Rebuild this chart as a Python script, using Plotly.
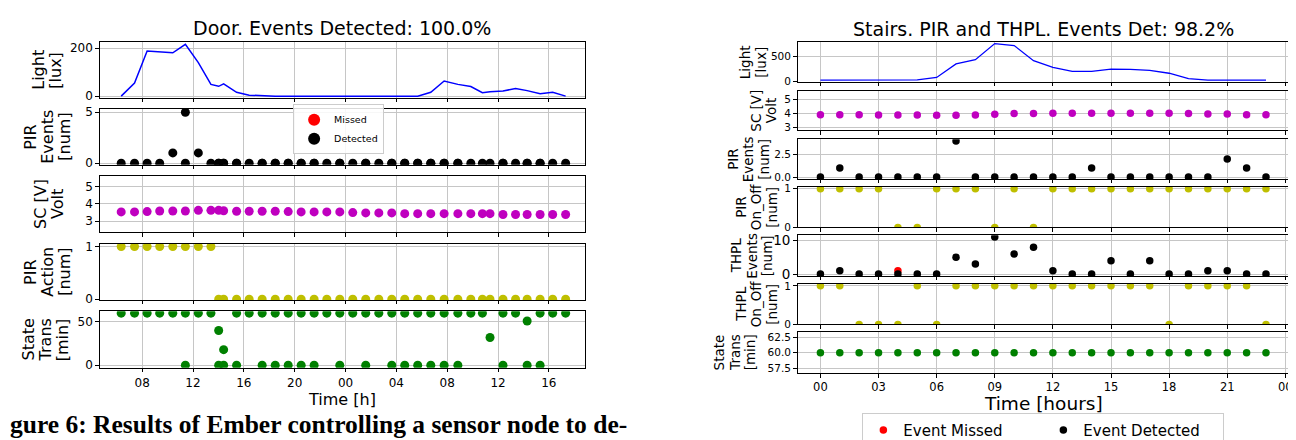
import plotly.graph_objects as go
import pandas as pd

W, H = 1296, 440

# ---------------- Left panel data: "Door" ----------------
door_hours = [6.35, 7.40, 8.39, 9.38, 10.41, 11.40, 12.42, 13.41, 14.02, 14.41,
              15.43, 16.42, 17.44, 18.47, 19.49, 20.51, 21.53, 22.53, 23.55, 24.57,
              25.59, 26.62, 27.64, 28.66, 29.68, 30.71, 31.76, 32.84, 33.86, 34.77,
              35.37, 36.39, 37.38, 38.29, 39.31, 40.30, 41.32]
door_light = [0, 55, 188, 185, 181, 216, 140, 49, 41, 51,
              16, 4, 1, 0, 0, 0, 0, 0, 0, 0,
              0, 0, 0, 0, 0, 16, 63, 49, 40, 14,
              18, 21, 32, 23, 10, 16, 0]
door_pir = [0, 0, 0, 0, 1, 5, 1, 0, 0, 0,
            0, 0, 0, 0, 0, 0, 0, 0, 0, 0,
            0, 0, 0, 0, 0, 0, 0, 0, 0, 0,
            0, 0, 0, 0, 0, 0, 0]
door_volt = [3.53, 3.53, 3.55, 3.58, 3.58, 3.58, 3.62, 3.62, 3.62, 3.60,
             3.57, 3.57, 3.57, 3.57, 3.55, 3.53, 3.53, 3.53, 3.53, 3.49,
             3.47, 3.47, 3.47, 3.43, 3.43, 3.43, 3.43, 3.43, 3.43, 3.43,
             3.43, 3.38, 3.38, 3.38, 3.38, 3.38, 3.38]
door_action = [1, 1, 1, 1, 1, 1, 1, 1, 0, 0,
               0, 0, 0, 0, 0, 0, 0, 0, 0, 0,
               0, 0, 0, 0, 0, 0, 0, 0, 0, 0,
               0, 0, 0, 0, 0, 0, 0]
door_state = [60, 60, 60, 60, 60, 60, 60, 60, 40, 18,
              60, 60, 60, 60, 60, 60, 60, 60, 60, 60,
              60, 60, 60, 60, 60, 60, 60, 60, 60, 60,
              32, 60, 60, 51, 60, 60, 60]
# additional transition records (0 min transition, 0 PIR events)
door_extra_hours = [11.40, 14.02, 14.41, 15.43, 17.44, 18.47, 19.49, 20.51, 21.53, 23.55,
                    25.59, 27.64, 28.66, 29.68, 30.71, 31.76, 32.84, 36.39, 38.29, 39.31]
door_extra_pir = [0] * len(door_extra_hours)
door_extra_state = [0] * len(door_extra_hours)
# no missed events in the door experiment (100 % detected)
door_missed_hours = [6.35]
door_missed_vals = [None]

# ---------------- Right panel data: "Stairs" ----------------
st_hours = list(range(24))
st_light = [25, 25, 25, 25, 25, 28, 79, 355, 440, 770, 730, 420,
            283, 204, 204, 250, 243, 224, 164, 53, 25, 25, 25, 25]
st_volt = [3.91, 3.90, 3.90, 3.88, 3.88, 3.88, 3.86, 3.86, 3.88, 3.93, 4.00, 4.00,
           4.02, 4.02, 4.02, 4.02, 4.02, 4.02, 4.02, 4.00, 3.95, 3.95, 3.91, 3.91]
st_pir = [0, 1, 0, 0, 0, 0, 0, 4, 0, 0, 0, 0, 0, 0, 1, 0, 0, 0, 0, 0, 0, 2, 1, 0]
st_pir_onoff = [1, 1, 1, 1, 0, 0, 1, 1, 1, 0, 1, 0, 1, 1, 1, 1, 1, 1, 1, 1, 1, 1, 1, 1]
st_thpl = [0, 1, 0, 0, 0, 0, 0, 5, 3, 11, 6, 8, 1, 0, 0, 4, 0, 4, 0, 0, 1, 1, 0, 0]
st_thpl_onoff = [1, 1, 0, 0, 0, 1, 0, 1, 1, 1, 1, 1, 1, 1, 1, 1, 1, 1, 0, 1, 1, 1, 1, 0]
st_state = [60] * 24
st_missed_hours = [4]
st_missed_vals = [1]

st_tickvals = [0, 3, 6, 9, 12, 15, 18, 21, 24]
st_ticktext = ["00", "03", "06", "09", "12", "15", "18", "21", "00"]

base = pd.Timestamp("2019-01-01")
def to_dt(hs):
    return [base + pd.Timedelta(hours=h) for h in hs]

door_t = to_dt(door_hours)
door_te = to_dt(door_extra_hours)
door_tm = to_dt(door_missed_hours)

# colours
BLUE, MAG, YEL, GRN, BLK, RED = "#0000ff", "#bf00bf", "#bfbf00", "#008000", "#000000", "#ff0000"
LMS, RMS = 9, 7.5

fig = go.Figure()

def sc(x, y, ax, color, size, **kw):
    fig.add_trace(go.Scatter(x=x, y=y, xaxis="x" + ax, yaxis="y" + ax, mode="markers",
                             marker=dict(color=color, size=size, line=dict(width=0)),
                             showlegend=kw.pop("showlegend", False), **kw))

# Left traces (axes 1-5)
fig.add_trace(go.Scatter(x=door_t, y=door_light, xaxis="x", yaxis="y", mode="lines",
                         line=dict(color=BLUE, width=1.5), showlegend=False))
sc(door_tm, door_missed_vals, "2", RED, LMS, name="Missed", showlegend=True,
   legend="legend", legendrank=1)
sc(door_t + door_te, door_pir + door_extra_pir, "2", BLK, LMS, name="Detected",
   showlegend=True, legend="legend", legendrank=2)
sc(door_t, door_volt, "3", MAG, LMS)
sc(door_t, door_action, "4", YEL, LMS)
sc(door_t + door_te, door_state + door_extra_state, "5", GRN, LMS)

# Right traces (axes 6-12)
fig.add_trace(go.Scatter(x=st_hours, y=st_light, xaxis="x6", yaxis="y6", mode="lines",
                         line=dict(color=BLUE, width=1.3), showlegend=False))
sc(st_hours, st_volt, "7", MAG, RMS)
sc(st_hours, st_pir, "8", BLK, RMS)
sc(st_hours, st_pir_onoff, "9", YEL, RMS)
sc(st_missed_hours, st_missed_vals, "10", RED, RMS, name="Event Missed",
   showlegend=True, legend="legend2", legendrank=1)
sc(st_hours, st_thpl, "10", BLK, RMS, name="Event Detected",
   showlegend=True, legend="legend2", legendrank=2)
sc(st_hours, st_thpl_onoff, "11", YEL, RMS)
sc(st_hours, st_state, "12", GRN, RMS)

def common(**kw):
    d = dict(showline=True, linecolor="black", linewidth=1, mirror=True,
             ticks="outside", ticklen=3.5, tickwidth=1, tickcolor="black",
             showgrid=True, gridcolor="#c6c6c6", gridwidth=1, zeroline=False,
             tickfont=dict(size=12, color="black"))
    d.update(kw)
    return d

layout = {}
# left panel geometry (pixels)
LX = (92, 579)
left_y = [(31, 88.3), (100, 157.3), (169, 226.7), (239, 296.7), (308.3, 366.7)]
left_ranges = [[-6.5, 225.5], [-0.15, 5.31], [2.36, 5.62], [-0.013, 1.05], [-3, 62.3]]
left_ticks = [[0, 200], [0, 5], [3, 4, 5], [0, 1], [0, 50]]
xr_left = [base + pd.Timedelta(hours=4.66), base + pd.Timedelta(hours=42.86)]
for i in range(5):
    n = i + 1
    key = "" if n == 1 else str(n)
    t, b = left_y[i]
    layout["xaxis" + key] = common(
        domain=[LX[0] / W, LX[1] / W], anchor="y" + key, type="date",
        range=xr_left, tick0=base, dtick=4 * 3600 * 1000, tickformat="%H",
        showticklabels=(n == 5))
    layout["yaxis" + key] = common(
        domain=[1 - b / H, 1 - t / H], anchor="x" + key, range=left_ranges[i],
        tickvals=left_ticks[i])

# right panel geometry
RX = (792, 1285)
right_y = [(31, 72), (81, 122), (131, 172), (180, 222), (230, 272), (280, 322), (330, 372)]
right_ranges = [[-12, 800], [2.77, 5.65], [-0.2, 4.2], [0, 1.055], [-0.55, 11.55],
                [0, 1.055], [56.71, 63.29]]
right_ticks = [[0, 500], [3, 4, 5], [0, 2.5], [0, 1], [0, 10], [0, 1], [57.5, 60, 62.5]]
right_tickfmt = ["", "", ".1f", "", "", "", ".1f"]
for i in range(7):
    n = i + 6
    key = str(n)
    t, b = right_y[i]
    layout["xaxis" + key] = common(
        domain=[RX[0] / W, RX[1] / W], anchor="y" + key, range=[-1.18, 24.19],
        tickvals=st_tickvals, ticktext=st_ticktext, showticklabels=(n == 12),
        tickfont=dict(size=11.5, color="black"))
    layout["yaxis" + key] = common(
        domain=[1 - b / H, 1 - t / H], anchor="x" + key, range=right_ranges[i],
        tickvals=right_ticks[i], tickformat=right_tickfmt[i],
        tickfont=dict(size=(13.5 if n == 10 else 10.5), color="black"))

ann = []
def text(x, y, s, size, angle=0, xanchor="center", yanchor="middle", family=None):
    a = dict(x=x / W, y=1 - y / H, xref="paper", yref="paper", text=s, showarrow=False,
             textangle=angle, xanchor=xanchor, yanchor=yanchor,
             font=dict(size=size, color="black"))
    if family:
        a["font"]["family"] = family
    ann.append(a)

# titles
text(335.5, 17, "Door. Events Detected: 100.0%", 19)
text(1038.5, 18, "Stairs. PIR and THPL. Events Det: 98.2%", 19)
# x-axis titles
text(335.5, 399, "Time [h]", 16)
text(1038.5, 403, "Time [hours]", 18.5)

# y labels, each line separately
left_labels = [(["Light", "[lux]"], 48, 59.6),
               (["PIR", "Events", "[num]"], 57, 128.7),
               (["SC [V]", "Volt"], 49, 197.9),
               (["PIR", "Action", "[num]"], 57, 267.9),
               (["State", "Trans", "[min]"], 55, 337.5)]
for lines, last, cy in left_labels:
    k = len(lines)
    for j, s in enumerate(lines):
        text(last - (k - 1 - j) * 17, cy, s, 16, angle=-90)

right_labels = [(["Light", "[lux]"], 755, 51.5),
                (["SC [V]", "Volt"], 765, 101.5),
                (["PIR", "Events", "[num]"], 758, 151.5),
                (["PIR", "On_Off", "[num]"], 766, 201),
                (["THPL", "Events", "[num]"], 761, 251),
                (["THPL", "On_Off", "[num]"], 766, 301),
                (["State", "Trans", "[min]"], 744, 351)]
for lines, last, cy in right_labels:
    k = len(lines)
    for j, s in enumerate(lines):
        text(last - (k - 1 - j) * 15.5, cy, s, 13.5, angle=-90)

# caption fragment
text(0, 425, "<b>gure 6: Results of Ember controlling a sensor node to de-</b>", 25.5,
     xanchor="left", family="Liberation Serif")

layout["annotations"] = ann
layout["legend"] = dict(x=286 / W, y=1 - 95 / H, xanchor="left", yanchor="top",
                        bgcolor="rgba(255,255,255,0.85)", bordercolor="#cccccc",
                        borderwidth=1, font=dict(size=9.5, color="black"),
                        tracegroupgap=0, itemsizing="constant", itemwidth=30)
layout["legend2"] = dict(x=857 / W, y=1 - 413 / H, xanchor="left", yanchor="top",
                         orientation="h", bgcolor="white", bordercolor="#cccccc",
                         borderwidth=1, font=dict(size=15, color="black"),
                         entrywidth=135)

fig.update_layout(**layout)
fig.update_layout(width=W, height=H, margin=dict(l=0, r=0, t=0, b=0),
                  paper_bgcolor="white", plot_bgcolor="white",
                  font=dict(family="DejaVu Sans", color="black"))

fig.write_html("out.html")
